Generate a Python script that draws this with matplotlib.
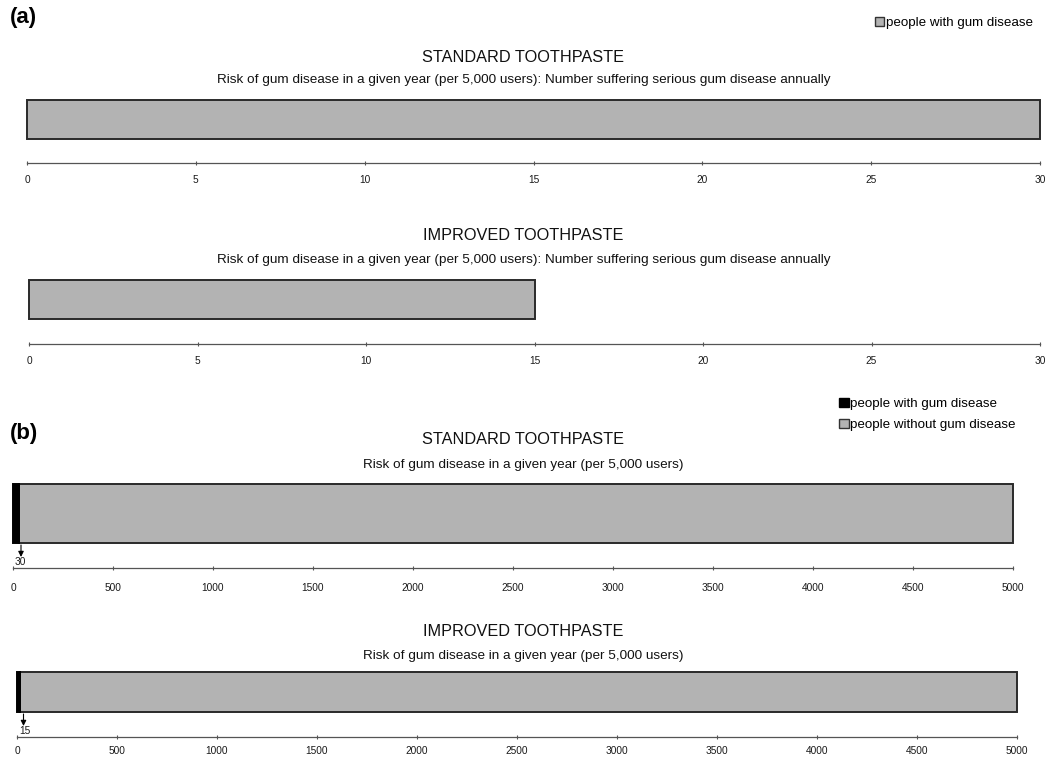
import matplotlib
matplotlib.use("Agg")
import matplotlib.pyplot as plt
from matplotlib.patches import Patch

plt.rcParams['font.family'] = ['Liberation Sans', 'DejaVu Sans']

# ---- data ----
titles = ["STANDARD TOOTHPASTE", "IMPROVED TOOTHPASTE"]
subtitle_a = "Risk of gum disease in a given year (per 5,000 users): Number suffering serious gum disease annually"
subtitle_b = "Risk of gum disease in a given year (per 5,000 users)"
with_disease = [30, 15]          # per 5,000 users
total_users = 5000
without_disease = [total_users - v for v in with_disease]
ticks_a = [0, 5, 10, 15, 20, 25, 30]
ticks_b = [0, 500, 1000, 1500, 2000, 2500, 3000, 3500, 4000, 4500, 5000]

GRAY = "#b3b3b3"
W, H = 1047, 758
fig = plt.figure(figsize=(W / 100, H / 100), dpi=100)

TITLE_FS = 11.7
SUB_FS = 9.7
TICK_FS = 7.3
LEG_FS = 9.6

def make_axes(x0, x1, bar_top, bar_bot, axis_y):
    left = x0 / W
    width = (x1 - x0) / W
    bottom = 1 - axis_y / H
    height = (axis_y - bar_top) / H
    ax = fig.add_axes([left, bottom, width, height])
    ax.set_ylim(0, 1)
    yb = (axis_y - bar_bot) / (axis_y - bar_top)
    for s in ["left", "right", "top"]:
        ax.spines[s].set_visible(False)
    ax.spines["bottom"].set_color("#555555")
    ax.spines["bottom"].set_linewidth(0.9)
    ax.set_yticks([])
    ax.set_facecolor("none")
    return ax, yb

def style_ticks(ax, ticks, xmax, pad):
    ax.set_xlim(0, xmax)
    ax.set_xticks(ticks)
    ax.set_xticklabels([str(t) for t in ticks], fontsize=TICK_FS, color="#1a1a1a")
    ax.tick_params(axis="x", direction="inout", length=3, width=0.8, color="#555555", pad=pad)

# ---------- panel (a) ----------
panels_a = [
    dict(x0=27, x1=1040, top=100, bot=139, axis=163, ty=57, sy=80),
    dict(x0=29, x1=1040, top=280, bot=319, axis=344, ty=236, sy=260),
]
for i, p in enumerate(panels_a):
    ax, yb = make_axes(p["x0"], p["x1"], p["top"], p["bot"], p["axis"])
    ax.barh([(yb + 1) / 2], [with_disease[i]], height=1 - yb, left=0,
            color=GRAY, edgecolor="#2a2a2a", linewidth=1.4, align="center", clip_on=False)
    style_ticks(ax, ticks_a, 30, 7)
    fig.text(0.5, 1 - p["ty"] / H, titles[i], ha="center", va="center", fontsize=TITLE_FS, color="#111111")
    fig.text(0.5, 1 - p["sy"] / H, subtitle_a, ha="center", va="center", fontsize=SUB_FS, color="#111111")

fig.text(10 / W, 1 - 17 / H, "(a)", fontsize=16, fontweight="bold", ha="left", va="center")
fig.legend(handles=[Patch(facecolor=GRAY, edgecolor="#333333", label="people with gum disease")],
           loc="upper right", bbox_to_anchor=(1033 / W, 1 - 17 / H), frameon=False,
           fontsize=LEG_FS, handlelength=0.7, handleheight=0.7, handletextpad=0.15,
           borderpad=0, borderaxespad=0)

# ---------- panel (b) ----------
panels_b = [
    dict(x0=13, x1=1013, top=484, bot=543, axis=568, ty=440, sy=465, pad=9),
    dict(x0=17, x1=1017, top=672, bot=712, axis=737, ty=631, sy=656, pad=5),
]
for i, p in enumerate(panels_b):
    ax, yb = make_axes(p["x0"], p["x1"], p["top"], p["bot"], p["axis"])
    span = p["axis"] - p["top"]
    yc = (yb + 1) / 2
    hgt = 1 - yb
    ax.barh([yc], [without_disease[i]], height=hgt, left=with_disease[i],
            color=GRAY, edgecolor="#2a2a2a", linewidth=1.4, clip_on=False)
    ax.barh([yc], [with_disease[i]], height=hgt, left=0,
            color="black", edgecolor="black", linewidth=1.4, clip_on=False)
    style_ticks(ax, ticks_b, 5000, p["pad"])
    y_from = (p["axis"] - (p["bot"] + 2)) / span
    y_to = 11 / span
    ax.annotate("", xy=(with_disease[i] / 2 + 25, y_to), xytext=(with_disease[i] / 2 + 25, y_from),
                arrowprops=dict(arrowstyle="-|>", color="black", lw=0.8, mutation_scale=8,
                                shrinkA=0, shrinkB=0),
                annotation_clip=False)
    ax.text(10, 0.01, str(with_disease[i]), fontsize=TICK_FS, ha="left", va="bottom", color="#1a1a1a")
    fig.text(0.5, 1 - p["ty"] / H, titles[i], ha="center", va="center", fontsize=TITLE_FS, color="#111111")
    fig.text(0.5, 1 - p["sy"] / H, subtitle_b, ha="center", va="center", fontsize=SUB_FS, color="#111111")

fig.text(10 / W, 1 - 434 / H, "(b)", fontsize=16, fontweight="bold", ha="left", va="center")
fig.legend(handles=[Patch(facecolor="black", edgecolor="black", label="people with gum disease"),
                    Patch(facecolor=GRAY, edgecolor="#333333", label="people without gum disease")],
           loc="upper right", bbox_to_anchor=(1016 / W, 1 - 398 / H), frameon=False,
           fontsize=LEG_FS, handlelength=0.7, handleheight=0.7, handletextpad=0.15,
           labelspacing=0.65, borderpad=0, borderaxespad=0)

fig.savefig("out.png", dpi=100, facecolor="white")
